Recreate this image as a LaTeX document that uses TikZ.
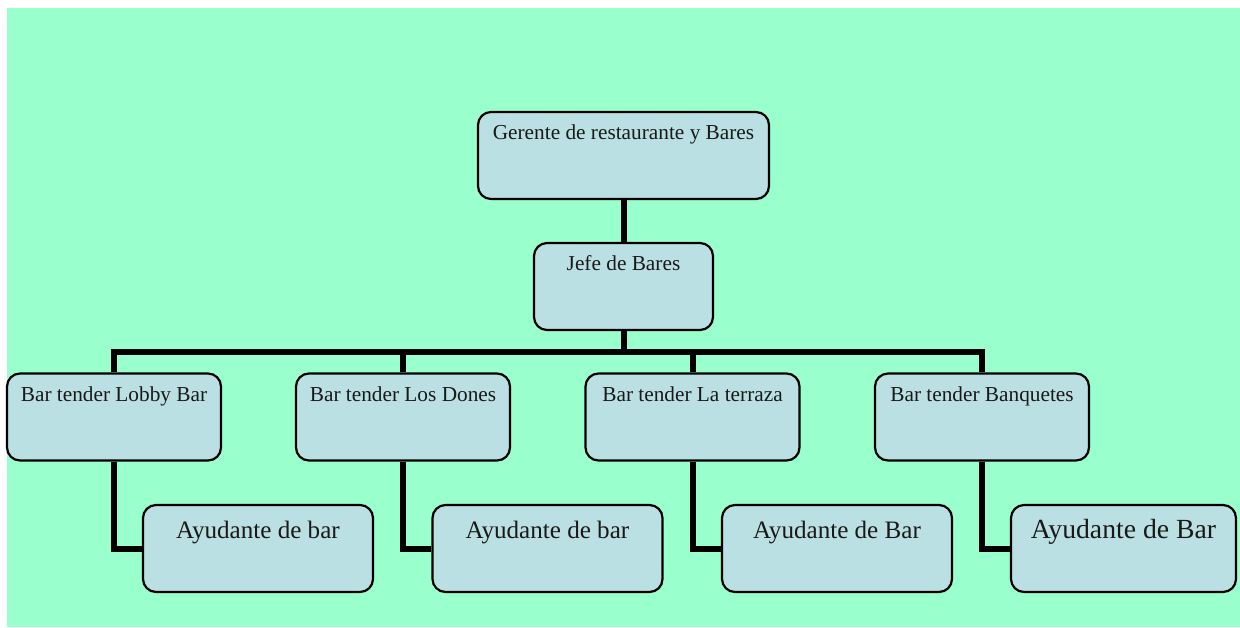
\documentclass[tikz,border=0pt]{standalone}
\usepackage{fontspec}
\setmainfont{Liberation Serif}
\usetikzlibrary{calc}
\definecolor{bgmint}{HTML}{99FFCC}
\definecolor{boxfill}{HTML}{BBE0E3}
\begin{document}
\begin{tikzpicture}[x=0.5pt,y=-0.5pt,
  orgbox/.style={draw=black, line width=1.1pt, fill=boxfill, rounded corners=6.5pt,
    inner sep=0pt, minimum height=43.5pt},
  wide/.style={minimum width=145.5pt},
  mid/.style={minimum width=89.5pt},
  tender/.style={minimum width=107pt},
  helper/.style={minimum width=115pt},
  lbl/.style={anchor=base, inner sep=0pt, text=black!90},
  small/.style={font=\fontsize{10.65pt}{12pt}\selectfont},
  large/.style={font=\fontsize{12.55pt}{14pt}\selectfont},
  larger/.style={font=\fontsize{13.85pt}{16pt}\selectfont},
  link/.style={line width=3pt, draw=black}]
  % canvas
  \useasboundingbox (0,0) rectangle (1240,627);
  \fill[white] (0,0) rectangle (1240,627);
  \fill[bgmint] (7,8) rectangle (1240,627);

  % boxes
  \node[orgbox, wide]   (g)  at (623.5,155.5) {};
  \node[orgbox, mid]    (j)  at (623.5,286.5) {};
  \node[orgbox, tender] (b1) at (114,417) {};
  \node[orgbox, tender] (b2) at (403,417) {};
  \node[orgbox, tender] (b3) at (692.5,417) {};
  \node[orgbox, tender] (b4) at (982,417) {};
  \node[orgbox, helper] (a1) at (258,548.5) {};
  \node[orgbox, helper] (a2) at (547.5,548.5) {};
  \node[orgbox, helper] (a3) at (837,548.5) {};
  \node[orgbox, helper, minimum width=112.5pt] (a4) at (1123.5,548.5) {};

  % labels
  \node[lbl, small] (tg)  at ($(g.north)+(0,28.7)$)  {Gerente de restaurante y Bares};
  \node[lbl, small] (tj)  at ($(j.north)+(0,28.7)$)  {Jefe de Bares};
  \node[lbl, small] (tb1) at ($(b1.north)+(0,29.5)$) {Bar tender Lobby Bar};
  \node[lbl, small] (tb2) at ($(b2.north)+(0,29.5)$) {Bar tender Los Dones};
  \node[lbl, small] (tb3) at ($(b3.north)+(0,29.5)$) {Bar tender La terraza};
  \node[lbl, small] (tb4) at ($(b4.north)+(0,29.5)$) {Bar tender Banquetes};
  \node[lbl, large] (ta1) at ($(a1.north)+(0,35)$)   {Ayudante de bar};
  \node[lbl, large] (ta2) at ($(a2.north)+(0,35)$)   {Ayudante de bar};
  \node[lbl, large] (ta3) at ($(a3.north)+(0,35)$)   {Ayudante de Bar};
  \node[lbl, larger] (ta4) at ($(a4.north)+(0,35)$)  {Ayudante de Bar};

  % connectors
  \coordinate (bus) at (623.5,352);
  \draw[link] (g.south) -- (j.north);
  \draw[link] (j.south) -- (bus);
  \draw[link] (bus) -| (b1.north);
  \draw[link] (bus) -| (b2.north);
  \draw[link] (bus) -| (b3.north);
  \draw[link] (bus) -| (b4.north);
  \draw[link] (b1.south) |- (a1.west);
  \draw[link] (b2.south) |- (a2.west);
  \draw[link] (b3.south) |- (a3.west);
  \draw[link] (b4.south) |- (a4.west);
\end{tikzpicture}
\end{document}
